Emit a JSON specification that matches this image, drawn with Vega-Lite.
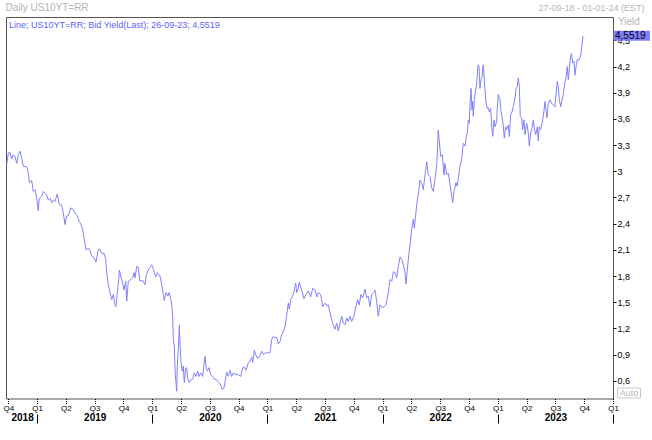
{
"$schema": "https://vega.github.io/schema/vega-lite/v6.json",
"width": 607, "height": 381.5,
"autosize": {"type": "none"},
"padding": {"left": 6, "top": 17, "right": 39, "bottom": 41.5},
"background": "white",
"config": {"font": "Liberation Sans", "view": {"stroke": "#555555", "strokeWidth": 1}},
"datasets": {"yield": [
{"time":2018.736,"yield":3.075},{"time":2018.750,"yield":3.21},{"time":2018.765,"yield":3.215},{"time":2018.779,"yield":3.14},{"time":2018.793,"yield":3.19},{"time":2018.808,"yield":3.17},{"time":2018.823,"yield":3.09},{"time":2018.837,"yield":3.19},{"time":2018.852,"yield":3.23},{"time":2018.866,"yield":3.15},{"time":2018.880,"yield":3.06},{"time":2018.910,"yield":3.05},{"time":2018.924,"yield":2.98},{"time":2018.932,"yield":2.87},{"time":2018.953,"yield":2.895},{"time":2018.967,"yield":2.77},{"time":2018.982,"yield":2.79},{"time":2018.997,"yield":2.69},{"time":2019.010,"yield":2.55},{"time":2019.019,"yield":2.69},{"time":2019.040,"yield":2.71},{"time":2019.054,"yield":2.77},{"time":2019.083,"yield":2.73},{"time":2019.097,"yield":2.67},{"time":2019.112,"yield":2.69},{"time":2019.127,"yield":2.64},{"time":2019.141,"yield":2.67},{"time":2019.155,"yield":2.655},{"time":2019.175,"yield":2.74},{"time":2019.193,"yield":2.62},{"time":2019.214,"yield":2.61},{"time":2019.228,"yield":2.52},{"time":2019.242,"yield":2.39},{"time":2019.257,"yield":2.49},{"time":2019.271,"yield":2.49},{"time":2019.292,"yield":2.58},{"time":2019.309,"yield":2.57},{"time":2019.329,"yield":2.52},{"time":2019.349,"yield":2.49},{"time":2019.364,"yield":2.43},{"time":2019.381,"yield":2.39},{"time":2019.396,"yield":2.33},{"time":2019.407,"yield":2.24},{"time":2019.425,"yield":2.10},{"time":2019.445,"yield":2.12},{"time":2019.459,"yield":2.09},{"time":2019.474,"yield":2.03},{"time":2019.494,"yield":2.01},{"time":2019.511,"yield":1.96},{"time":2019.531,"yield":2.10},{"time":2019.546,"yield":2.11},{"time":2019.561,"yield":2.06},{"time":2019.581,"yield":2.06},{"time":2019.596,"yield":1.99},{"time":2019.604,"yield":1.84},{"time":2019.618,"yield":1.70},{"time":2019.633,"yield":1.61},{"time":2019.648,"yield":1.53},{"time":2019.662,"yield":1.59},{"time":2019.676,"yield":1.47},{"time":2019.685,"yield":1.45},{"time":2019.696,"yield":1.61},{"time":2019.709,"yield":1.76},{"time":2019.714,"yield":1.87},{"time":2019.726,"yield":1.80},{"time":2019.743,"yield":1.72},{"time":2019.755,"yield":1.64},{"time":2019.769,"yield":1.74},{"time":2019.778,"yield":1.51},{"time":2019.792,"yield":1.74},{"time":2019.813,"yield":1.76},{"time":2019.830,"yield":1.78},{"time":2019.841,"yield":1.84},{"time":2019.850,"yield":1.78},{"time":2019.865,"yield":1.91},{"time":2019.879,"yield":1.90},{"time":2019.893,"yield":1.74},{"time":2019.917,"yield":1.75},{"time":2019.937,"yield":1.70},{"time":2019.946,"yield":1.80},{"time":2019.965,"yield":1.87},{"time":2019.986,"yield":1.91},{"time":2019.995,"yield":1.93},{"time":2020.009,"yield":1.88},{"time":2020.030,"yield":1.79},{"time":2020.044,"yield":1.84},{"time":2020.067,"yield":1.80},{"time":2020.082,"yield":1.70},{"time":2020.096,"yield":1.59},{"time":2020.104,"yield":1.52},{"time":2020.119,"yield":1.61},{"time":2020.134,"yield":1.57},{"time":2020.145,"yield":1.61},{"time":2020.160,"yield":1.54},{"time":2020.169,"yield":1.47},{"time":2020.177,"yield":1.34},{"time":2020.183,"yield":1.07},{"time":2020.191,"yield":1.00},{"time":2020.200,"yield":0.67},{"time":2020.212,"yield":0.48},{"time":2020.217,"yield":0.77},{"time":2020.226,"yield":0.96},{"time":2020.235,"yield":1.24},{"time":2020.241,"yield":1.02},{"time":2020.249,"yield":0.82},{"time":2020.261,"yield":0.71},{"time":2020.269,"yield":0.77},{"time":2020.278,"yield":0.58},{"time":2020.290,"yield":0.74},{"time":2020.299,"yield":0.75},{"time":2020.308,"yield":0.63},{"time":2020.321,"yield":0.58},{"time":2020.334,"yield":0.61},{"time":2020.351,"yield":0.62},{"time":2020.365,"yield":0.69},{"time":2020.380,"yield":0.65},{"time":2020.394,"yield":0.71},{"time":2020.406,"yield":0.65},{"time":2020.420,"yield":0.69},{"time":2020.438,"yield":0.65},{"time":2020.449,"yield":0.79},{"time":2020.458,"yield":0.88},{"time":2020.466,"yield":0.77},{"time":2020.478,"yield":0.71},{"time":2020.492,"yield":0.75},{"time":2020.507,"yield":0.67},{"time":2020.525,"yield":0.65},{"time":2020.539,"yield":0.62},{"time":2020.559,"yield":0.61},{"time":2020.579,"yield":0.58},{"time":2020.594,"yield":0.55},{"time":2020.608,"yield":0.50},{"time":2020.623,"yield":0.52},{"time":2020.634,"yield":0.61},{"time":2020.646,"yield":0.70},{"time":2020.660,"yield":0.65},{"time":2020.675,"yield":0.72},{"time":2020.690,"yield":0.65},{"time":2020.703,"yield":0.69},{"time":2020.727,"yield":0.67},{"time":2020.747,"yield":0.67},{"time":2020.768,"yield":0.65},{"time":2020.785,"yield":0.75},{"time":2020.796,"yield":0.76},{"time":2020.814,"yield":0.72},{"time":2020.834,"yield":0.81},{"time":2020.848,"yield":0.82},{"time":2020.863,"yield":0.87},{"time":2020.872,"yield":0.81},{"time":2020.886,"yield":0.95},{"time":2020.901,"yield":0.89},{"time":2020.912,"yield":0.86},{"time":2020.929,"yield":0.87},{"time":2020.950,"yield":0.94},{"time":2020.964,"yield":0.90},{"time":2020.979,"yield":0.92},{"time":2020.999,"yield":0.92},{"time":2021.022,"yield":0.92},{"time":2021.037,"yield":1.07},{"time":2021.051,"yield":1.11},{"time":2021.066,"yield":1.09},{"time":2021.080,"yield":1.10},{"time":2021.094,"yield":1.02},{"time":2021.109,"yield":1.05},{"time":2021.124,"yield":1.13},{"time":2021.138,"yield":1.16},{"time":2021.152,"yield":1.22},{"time":2021.167,"yield":1.35},{"time":2021.181,"yield":1.49},{"time":2021.190,"yield":1.42},{"time":2021.202,"yield":1.53},{"time":2021.219,"yield":1.57},{"time":2021.233,"yield":1.63},{"time":2021.245,"yield":1.72},{"time":2021.254,"yield":1.61},{"time":2021.268,"yield":1.66},{"time":2021.276,"yield":1.73},{"time":2021.297,"yield":1.64},{"time":2021.317,"yield":1.54},{"time":2021.335,"yield":1.59},{"time":2021.355,"yield":1.63},{"time":2021.375,"yield":1.56},{"time":2021.393,"yield":1.66},{"time":2021.413,"yield":1.64},{"time":2021.428,"yield":1.56},{"time":2021.441,"yield":1.61},{"time":2021.462,"yield":1.59},{"time":2021.480,"yield":1.45},{"time":2021.500,"yield":1.49},{"time":2021.514,"yield":1.46},{"time":2021.528,"yield":1.47},{"time":2021.543,"yield":1.38},{"time":2021.558,"yield":1.30},{"time":2021.572,"yield":1.24},{"time":2021.586,"yield":1.19},{"time":2021.601,"yield":1.26},{"time":2021.615,"yield":1.17},{"time":2021.630,"yield":1.26},{"time":2021.645,"yield":1.34},{"time":2021.658,"yield":1.26},{"time":2021.673,"yield":1.24},{"time":2021.688,"yield":1.32},{"time":2021.702,"yield":1.28},{"time":2021.717,"yield":1.34},{"time":2021.731,"yield":1.28},{"time":2021.751,"yield":1.34},{"time":2021.769,"yield":1.46},{"time":2021.783,"yield":1.53},{"time":2021.797,"yield":1.47},{"time":2021.812,"yield":1.59},{"time":2021.827,"yield":1.55},{"time":2021.847,"yield":1.65},{"time":2021.862,"yield":1.55},{"time":2021.875,"yield":1.57},{"time":2021.890,"yield":1.45},{"time":2021.905,"yield":1.59},{"time":2021.919,"yield":1.61},{"time":2021.934,"yield":1.64},{"time":2021.948,"yield":1.51},{"time":2021.962,"yield":1.34},{"time":2021.977,"yield":1.47},{"time":2021.992,"yield":1.44},{"time":2022.012,"yield":1.45},{"time":2022.029,"yield":1.47},{"time":2022.040,"yield":1.54},{"time":2022.053,"yield":1.64},{"time":2022.064,"yield":1.76},{"time":2022.079,"yield":1.74},{"time":2022.093,"yield":1.85},{"time":2022.107,"yield":1.84},{"time":2022.122,"yield":1.78},{"time":2022.136,"yield":1.91},{"time":2022.151,"yield":2.02},{"time":2022.166,"yield":1.99},{"time":2022.179,"yield":1.93},{"time":2022.194,"yield":1.85},{"time":2022.203,"yield":1.71},{"time":2022.214,"yield":1.87},{"time":2022.226,"yield":2.03},{"time":2022.238,"yield":2.16},{"time":2022.252,"yield":2.33},{"time":2022.266,"yield":2.45},{"time":2022.275,"yield":2.35},{"time":2022.290,"yield":2.54},{"time":2022.301,"yield":2.67},{"time":2022.313,"yield":2.77},{"time":2022.324,"yield":2.90},{"time":2022.339,"yield":2.86},{"time":2022.353,"yield":2.79},{"time":2022.368,"yield":2.96},{"time":2022.383,"yield":3.11},{"time":2022.396,"yield":2.96},{"time":2022.411,"yield":2.94},{"time":2022.426,"yield":2.81},{"time":2022.440,"yield":2.77},{"time":2022.455,"yield":2.92},{"time":2022.469,"yield":3.06},{"time":2022.478,"yield":3.30},{"time":2022.483,"yield":3.47},{"time":2022.492,"yield":3.34},{"time":2022.504,"yield":3.17},{"time":2022.518,"yield":3.19},{"time":2022.533,"yield":2.96},{"time":2022.541,"yield":3.09},{"time":2022.556,"yield":2.96},{"time":2022.570,"yield":2.98},{"time":2022.585,"yield":2.85},{"time":2022.600,"yield":2.71},{"time":2022.608,"yield":2.64},{"time":2022.620,"yield":2.77},{"time":2022.637,"yield":2.87},{"time":2022.648,"yield":2.83},{"time":2022.657,"yield":2.92},{"time":2022.672,"yield":3.06},{"time":2022.686,"yield":3.14},{"time":2022.700,"yield":3.32},{"time":2022.715,"yield":3.29},{"time":2022.724,"yield":3.38},{"time":2022.735,"yield":3.44},{"time":2022.744,"yield":3.59},{"time":2022.752,"yield":3.55},{"time":2022.759,"yield":3.78},{"time":2022.767,"yield":3.95},{"time":2022.776,"yield":3.70},{"time":2022.782,"yield":3.80},{"time":2022.787,"yield":3.63},{"time":2022.796,"yield":3.82},{"time":2022.805,"yield":3.91},{"time":2022.817,"yield":4.01},{"time":2022.828,"yield":4.22},{"time":2022.837,"yield":4.20},{"time":2022.845,"yield":3.95},{"time":2022.854,"yield":4.05},{"time":2022.863,"yield":4.08},{"time":2022.869,"yield":4.18},{"time":2022.874,"yield":4.22},{"time":2022.880,"yield":4.10},{"time":2022.889,"yield":3.93},{"time":2022.897,"yield":3.80},{"time":2022.909,"yield":3.72},{"time":2022.917,"yield":3.73},{"time":2022.926,"yield":3.68},{"time":2022.938,"yield":3.72},{"time":2022.947,"yield":3.51},{"time":2022.956,"yield":3.40},{"time":2022.967,"yield":3.59},{"time":2022.976,"yield":3.51},{"time":2022.990,"yield":3.57},{"time":2022.996,"yield":3.74},{"time":2023.004,"yield":3.88},{"time":2023.019,"yield":3.82},{"time":2023.028,"yield":3.68},{"time":2023.039,"yield":3.61},{"time":2023.048,"yield":3.51},{"time":2023.056,"yield":3.38},{"time":2023.068,"yield":3.51},{"time":2023.077,"yield":3.48},{"time":2023.091,"yield":3.53},{"time":2023.100,"yield":3.40},{"time":2023.112,"yield":3.65},{"time":2023.123,"yield":3.68},{"time":2023.134,"yield":3.74},{"time":2023.149,"yield":3.84},{"time":2023.158,"yield":3.95},{"time":2023.169,"yield":3.97},{"time":2023.178,"yield":4.07},{"time":2023.187,"yield":3.97},{"time":2023.195,"yield":3.63},{"time":2023.207,"yield":3.61},{"time":2023.216,"yield":3.48},{"time":2023.227,"yield":3.59},{"time":2023.236,"yield":3.42},{"time":2023.251,"yield":3.55},{"time":2023.265,"yield":3.44},{"time":2023.273,"yield":3.29},{"time":2023.286,"yield":3.44},{"time":2023.299,"yield":3.51},{"time":2023.308,"yield":3.59},{"time":2023.317,"yield":3.49},{"time":2023.329,"yield":3.42},{"time":2023.343,"yield":3.51},{"time":2023.351,"yield":3.35},{"time":2023.360,"yield":3.51},{"time":2023.372,"yield":3.48},{"time":2023.384,"yield":3.55},{"time":2023.395,"yield":3.63},{"time":2023.410,"yield":3.80},{"time":2023.418,"yield":3.70},{"time":2023.427,"yield":3.61},{"time":2023.438,"yield":3.78},{"time":2023.453,"yield":3.82},{"time":2023.468,"yield":3.78},{"time":2023.482,"yield":3.76},{"time":2023.496,"yield":3.74},{"time":2023.505,"yield":3.88},{"time":2023.516,"yield":4.03},{"time":2023.525,"yield":3.97},{"time":2023.534,"yield":3.82},{"time":2023.546,"yield":3.74},{"time":2023.555,"yield":3.80},{"time":2023.568,"yield":3.88},{"time":2023.583,"yield":4.03},{"time":2023.592,"yield":4.07},{"time":2023.603,"yield":4.20},{"time":2023.612,"yield":4.05},{"time":2023.621,"yield":4.18},{"time":2023.633,"yield":4.33},{"time":2023.641,"yield":4.35},{"time":2023.650,"yield":4.24},{"time":2023.661,"yield":4.26},{"time":2023.670,"yield":4.10},{"time":2023.679,"yield":4.20},{"time":2023.690,"yield":4.28},{"time":2023.702,"yield":4.27},{"time":2023.713,"yield":4.30},{"time":2023.722,"yield":4.35},{"time":2023.731,"yield":4.45},{"time":2023.740,"yield":4.5519}
]},
"data": {"name": "yield"},
"layer": [
{
"mark": {"type": "line", "strokeWidth": 1, "clip": true},
"encoding": {
"x": {"field": "time", "type": "quantitative",
"scale": {"domain": [2018.73, 2024.0], "nice": false, "zero": false},
"axis": {"orient": "bottom", "title": null, "grid": false, "domain": false,
"values": [2018.75, 2019, 2019.25, 2019.5, 2019.75, 2020, 2020.25, 2020.5, 2020.75, 2021, 2021.25, 2021.5, 2021.75, 2022, 2022.25, 2022.5, 2022.75, 2023, 2023.25, 2023.5, 2023.75, 2024],
"labelExpr": "'Q' + (round((datum.value - floor(datum.value)) * 4) + 1)",
"tickSize": 5, "tickColor": "#000000", "tickDash": [1, 1],
"labelFontSize": 8, "labelColor": "#000000", "labelPadding": 1,
"labelFlush": false, "labelOverlap": false, "labelBound": false}},
"y": {"field": "yield", "type": "quantitative",
"scale": {"domain": [0.397, 4.768], "nice": false, "zero": false},
"axis": {"orient": "right", "grid": false, "domain": false,
"values": [0.6, 0.9, 1.2, 1.5, 1.8, 2.1, 2.4, 2.7, 3, 3.3, 3.6, 3.9, 4.2, 4.5],
"labelExpr": "replace(format(datum.value, '.2~f'), '.', ',')",
"tickSize": 3, "tickColor": "#000000",
"labelFontSize": 9, "labelColor": "#000000", "labelPadding": 1,
"labelFlush": false, "labelOverlap": false,
"title": "Yield", "titleAngle": 0, "titleAlign": "left", "titleBaseline": "alphabetic",
"titleX": 4.5, "titleY": 7.5, "titleFontSize": 10, "titleFontWeight": "normal", "titleColor": "#b4b4b4"}},
"color": {"datum": "Line; US10YT=RR; Bid Yield(Last); 26-09-23; 4,5519", "type": "nominal",
"scale": {"range": ["#8080ff"]},
"legend": {"orient": "none", "legendX": -6, "legendY": 3, "title": null, "padding": 0,
"symbolSize": 0, "symbolStrokeWidth": 0, "symbolOpacity": 0, "labelOffset": 0,
"labelFontSize": 9, "labelColor": "#6060ff", "labelLimit": 400}}
}
},
{
"data": {"values": [{"last": 4.5519}]},
"mark": {"type": "point", "opacity": 0},
"encoding": {
"x": {"datum": 2021, "type": "quantitative",
"axis": {"orient": "bottom", "offset": 14, "title": null, "grid": false, "domain": false, "ticks": false,
"values": [2018.87, 2019.5, 2020.5, 2021.5, 2022.5, 2023.5],
"labelExpr": "floor(datum.value)",
"labelFontSize": 10, "labelFontWeight": "bold", "labelColor": "#000000", "labelPadding": 0,
"labelFlush": false, "labelOverlap": false, "labelBound": false}}
}
},
{
"data": {"values": [{"last": 4.5519}]},
"mark": {"type": "point", "opacity": 0},
"encoding": {
"x": {"datum": 2021, "type": "quantitative",
"axis": {"orient": "bottom", "offset": 15.5, "title": null, "grid": false, "domain": false, "labels": false,
"values": [2019, 2020, 2021, 2022, 2023, 2024],
"tickSize": 9, "tickColor": "#000000", "tickWidth": 1}}
}
},
{
"data": {"values": [{"last": 4.5519}]},
"mark": {"type": "point", "opacity": 0},
"encoding": {
"x": {"datum": 2021, "type": "quantitative",
"axis": {"orient": "top", "grid": false, "domain": false, "labels": false, "ticks": false,
"title": "27-09-18 - 01-01-24 (EST)", "titleAnchor": "end", "titleAlign": "right",
"titleX": 638, "titleY": -6.5, "titleBaseline": "alphabetic", "titlePadding": 0,
"titleFontSize": 9, "titleFontWeight": "normal", "titleColor": "#b4b4b4"}}
}
},
{
"data": {"values": [{"last": 4.5519}]},
"mark": {"type": "point", "opacity": 0},
"encoding": {
"x": {"datum": 2021, "type": "quantitative",
"axis": {"orient": "top", "grid": false, "domain": false, "labels": false, "ticks": false,
"title": "Daily US10YT=RR", "titleAnchor": "start", "titleAlign": "left",
"titleX": -1, "titleY": -6.5, "titleBaseline": "alphabetic", "titlePadding": 0,
"titleFontSize": 10, "titleFontWeight": "normal", "titleColor": "#b4b4b4"}}
}
},
{
"data": {"values": [{"last": 4.5519, "label": "4,5519"}]},
"mark": {"type": "rect", "color": "#8080ff", "xOffset": 0.5, "x2Offset": 37, "yOffset": -5, "y2Offset": 5},
"encoding": {
"x": {"datum": 2024, "type": "quantitative", "axis": null},
"x2": {"datum": 2024},
"y": {"field": "last", "type": "quantitative", "axis": null},
"y2": {"field": "last"}
}
},
{
"data": {"values": [{"last": 4.5519, "label": "4,5519"}]},
"mark": {"type": "text", "align": "left", "baseline": "middle", "dx": 2, "fontSize": 10, "color": "#000000"},
"encoding": {
"x": {"datum": 2024, "type": "quantitative", "axis": null},
"y": {"field": "last", "type": "quantitative", "axis": null},
"text": {"field": "label", "type": "nominal"}
}
},
{
"data": {"values": [{"last": 4.5519}]},
"mark": {"type": "rect", "fill": "white", "stroke": "#c8c8c8", "strokeWidth": 1, "xOffset": 4.5, "x2Offset": 27.5, "yOffset": -0.5, "y2Offset": -10.5},
"encoding": {
"x": {"datum": 2024, "type": "quantitative", "axis": null},
"x2": {"datum": 2024},
"y": {"datum": 0.397, "type": "quantitative", "axis": null},
"y2": {"datum": 0.397}
}
},
{
"data": {"values": [{"last": 4.5519}]},
"mark": {"type": "text", "text": "Auto", "align": "center", "baseline": "middle", "dx": 16, "dy": -5.5, "fontSize": 9, "color": "#b4b4b4"},
"encoding": {
"x": {"datum": 2024, "type": "quantitative", "axis": null},
"y": {"datum": 0.397, "type": "quantitative", "axis": null}
}
}
],
"resolve": {"axis": {"x": "independent", "y": "independent"}}
}
